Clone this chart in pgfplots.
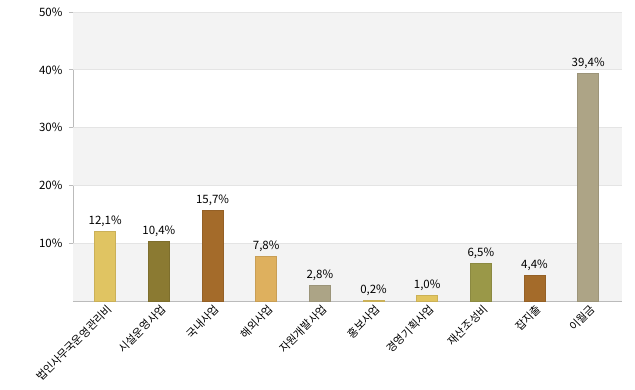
\documentclass[border=0pt]{standalone}
\usepackage{pgfplots}
\pgfplotsset{compat=1.18}
\usepackage{fontspec}
\setmainfont{Noto Sans CJK KR}
\definecolor{bandgray}{HTML}{F3F3F3}
\definecolor{gridc}{HTML}{E4E4E4}
\definecolor{axc}{HTML}{BBBBBB}
\definecolor{c1}{HTML}{E0C462}
\definecolor{c2}{HTML}{8B7A32}
\definecolor{c3}{HTML}{A46B2A}
\definecolor{c4}{HTML}{DEB05E}
\definecolor{c5}{HTML}{ACA486}
\definecolor{c6}{HTML}{E0C462}
\definecolor{c7}{HTML}{E2C55F}
\definecolor{c8}{HTML}{9A9848}
\definecolor{c9}{HTML}{A46B2A}
\definecolor{c10}{HTML}{ADA486}
\begin{document}
\begin{tikzpicture}
\useasboundingbox (-73pt,-89pt) rectangle (562pt,301pt);
\begin{axis}[
  scale only axis, width=549pt, height=289pt,
  xmin=-0.6, xmax=9.63, ymin=0, ymax=50,
  axis x line*=bottom, axis y line*=left,
  axis line style={axc, line width=0.8pt},
  x axis line style={-}, y axis line style={-},
  xtick={0,...,9}, xtick style={draw=none},
  xticklabels={법인사무국운영관리비,시설운영사업,국내사업,해외사업,자원개발사업,홍보사업,경영기획사업,재산조성비,잡지출,이월금},
  xticklabel style={rotate=45, anchor=east, font=\fontsize{11}{13}\selectfont, yshift=-5pt, xshift=5pt},
  ytick={10,20,30,40,50},
  yticklabels={10\%,20\%,30\%,40\%,50\%},
  yticklabel style={font=\fontsize{11.5}{13}\selectfont, xshift=-3pt},
  ytick style={axc, line width=0.6pt},
  major tick length=4pt,
  tick align=outside,
  ybar, bar width=21pt, bar shift=0pt,
  point meta=explicit symbolic,
  nodes near coords,
  nodes near coords style={font=\fontsize{11.5}{13}\selectfont, text=black, yshift=1pt},
  clip=false,
]
\fill[bandgray] (axis cs:-0.6,0) rectangle (axis cs:9.63,10);
\fill[bandgray] (axis cs:-0.6,20) rectangle (axis cs:9.63,30);
\fill[bandgray] (axis cs:-0.6,40) rectangle (axis cs:9.63,50);
\foreach \yy in {10,20,30,40,50}{
  \edef\tmp{\noexpand\draw[gridc, line width=0.7pt] (axis cs:-0.6,\yy) -- (axis cs:9.63,\yy);}\tmp
}
\addplot[fill=c1, draw=c1!90!black] coordinates {(0,12.1)[12,1\%]};
\addplot[fill=c2, draw=c2!90!black] coordinates {(1,10.4)[10,4\%]};
\addplot[fill=c3, draw=c3!90!black] coordinates {(2,15.7)[15,7\%]};
\addplot[fill=c4, draw=c4!90!black] coordinates {(3,7.8)[7,8\%]};
\addplot[fill=c5, draw=c5!90!black] coordinates {(4,2.8)[2,8\%]};
\addplot[fill=c6, draw=c6!90!black] coordinates {(5,0.2)[0,2\%]};
\addplot[fill=c7, draw=c7!90!black] coordinates {(6,1.0)[1,0\%]};
\addplot[fill=c8, draw=c8!90!black] coordinates {(7,6.5)[6,5\%]};
\addplot[fill=c9, draw=c9!90!black] coordinates {(8,4.4)[4,4\%]};
\addplot[fill=c10, draw=c10!90!black] coordinates {(9,39.4)[39,4\%]};
\end{axis}
\end{tikzpicture}
\end{document}
